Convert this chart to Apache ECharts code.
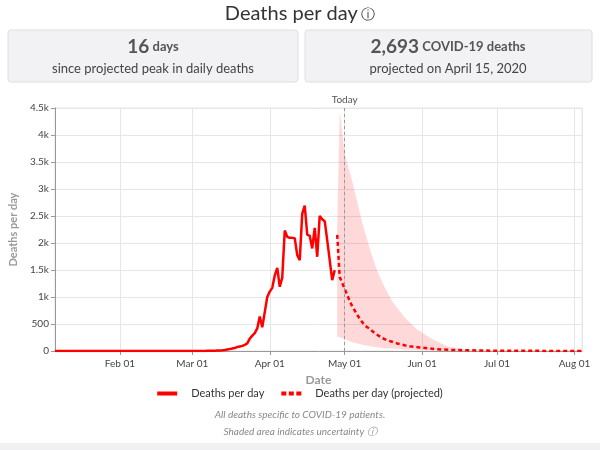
<!DOCTYPE html>
<html>
<head>
<meta charset="utf-8">
<script src="https://cdn.jsdelivr.net/npm/echarts@6/dist/echarts.min.js"></script>
<style>
  html, body { margin: 0; padding: 0; background: #fff; }
  #chart { width: 600px; height: 450px; }
</style>
</head>
<body>
<div id="chart"></div>
<script>
// observed deaths per day
let actualDates = [
  '2020-01-06', '2020-03-01', '2020-03-02', '2020-03-03', '2020-03-04', '2020-03-05',
  '2020-03-06', '2020-03-07', '2020-03-08', '2020-03-09', '2020-03-10', '2020-03-11',
  '2020-03-12', '2020-03-13', '2020-03-14', '2020-03-15', '2020-03-16', '2020-03-17',
  '2020-03-18', '2020-03-19', '2020-03-20', '2020-03-21', '2020-03-22', '2020-03-23',
  '2020-03-24', '2020-03-25', '2020-03-26', '2020-03-27', '2020-03-28', '2020-03-29',
  '2020-03-30', '2020-03-31', '2020-04-01', '2020-04-02', '2020-04-03', '2020-04-04',
  '2020-04-05', '2020-04-06', '2020-04-07', '2020-04-08', '2020-04-09', '2020-04-10',
  '2020-04-11', '2020-04-12', '2020-04-13', '2020-04-14', '2020-04-15', '2020-04-16',
  '2020-04-17', '2020-04-18', '2020-04-19', '2020-04-20', '2020-04-21', '2020-04-22',
  '2020-04-23', '2020-04-24', '2020-04-25', '2020-04-26', '2020-04-27'
];
let actualValues = [
  0, 0, 0, 1, 1, 2,
  2, 3, 4, 5, 6, 8,
  10, 14, 20, 28, 35, 45,
  55, 75, 85, 95, 115, 140,
  230, 285, 330, 420, 640, 440,
  720, 1000, 1100, 1170, 1400, 1540,
  1190, 1360, 2230, 2115, 2095, 2095,
  2090, 1775, 1683, 2545, 2693, 2157,
  2133, 1900, 2280, 1745, 2502, 2440,
  2404, 2053, 1683, 1312, 1497
];

// projection
let projDates = [
  '2020-04-28', '2020-04-29', '2020-04-30', '2020-05-01', '2020-05-02', '2020-05-03',
  '2020-05-04', '2020-05-05', '2020-05-06', '2020-05-07', '2020-05-08', '2020-05-09',
  '2020-05-10', '2020-05-11', '2020-05-12', '2020-05-13', '2020-05-14', '2020-05-15',
  '2020-05-16', '2020-05-17', '2020-05-18', '2020-05-19', '2020-05-20', '2020-05-22',
  '2020-05-25', '2020-05-27', '2020-05-31', '2020-06-07', '2020-06-14', '2020-06-25',
  '2020-07-10', '2020-08-04'
];
let projValues = [
  2150, 1370, 1260, 1150, 1040, 925,
  830, 750, 670, 600, 535, 480,
  440, 415, 370, 330, 300, 270,
  240, 220, 200, 185, 172, 140,
  105, 88, 65, 32, 18, 8,
  3, 1
];

// uncertainty band
let bandDates = ['2020-04-28', '2020-04-29', '2020-05-01', '2020-05-04', '2020-05-08', '2020-05-11',
  '2020-05-14', '2020-05-17', '2020-05-20', '2020-05-25', '2020-05-30', '2020-06-05',
  '2020-06-11', '2020-06-20', '2020-07-01', '2020-08-04'];
let bandLower = [265, 255, 220, 160, 115, 90, 70, 52, 45, 28, 18, 10, 6, 2, 0, 0];
let bandUpper = [2300, 4450, 3650, 3150, 2380, 1900, 1480, 1180, 920, 620, 400, 220, 90, 15, 2, 0];

let yTicks = [0, 500, 1000, 1500, 2000, 2500, 3000, 3500, 4000, 4500];
let monthNames = ['Jan', 'Feb', 'Mar', 'Apr', 'May', 'Jun', 'Jul', 'Aug', 'Sep', 'Oct', 'Nov', 'Dec'];
let todayDate = '2020-05-01';

let font = 'Lato, "Noto Sans", sans-serif';

function pairs(dates, values) {
  return dates.map(function (d, i) { return [d, values[i]]; });
}

let chart = echarts.init(document.getElementById('chart'));

chart.setOption({
  animation: false,
  textStyle: { fontFamily: font },
  graphic: [
    { type: 'text', x: 300, y: 14,
      style: { text: '{t|Deaths per day} {i|\u24D8}', align: 'center', verticalAlign: 'middle',
        rich: {
          t: { fontSize: 20, fill: '#333', fontFamily: font },
          i: { fontSize: 14, fill: '#333', fontFamily: font }
        } } },
    { type: 'rect', shape: { x: 8, y: 30, width: 290, height: 52, r: 3 },
      style: { fill: '#f2f2f4', stroke: '#dedee2', lineWidth: 1 } },
    { type: 'rect', shape: { x: 305, y: 30, width: 287, height: 52, r: 3 },
      style: { fill: '#f2f2f4', stroke: '#dedee2', lineWidth: 1 } },
    { type: 'text', x: 153, y: 47,
      style: { text: '{a|16} {b|days}', align: 'center', verticalAlign: 'middle',
        rich: {
          a: { fontSize: 19, fontWeight: 'bold', fill: '#555', fontFamily: font },
          b: { fontSize: 13, fontWeight: 'bold', fill: '#555', fontFamily: font }
        } } },
    { type: 'text', x: 153, y: 69,
      style: { text: 'since projected peak in daily deaths', align: 'center', verticalAlign: 'middle',
        fontSize: 13, fill: '#444', fontFamily: font } },
    { type: 'text', x: 448, y: 47,
      style: { text: '{a|2,693} {b|COVID-19 deaths}', align: 'center', verticalAlign: 'middle',
        rich: {
          a: { fontSize: 19, fontWeight: 'bold', fill: '#555', fontFamily: font },
          b: { fontSize: 13, fontWeight: 'bold', fill: '#555', fontFamily: font }
        } } },
    { type: 'text', x: 448, y: 69,
      style: { text: 'projected on April 15, 2020', align: 'center', verticalAlign: 'middle',
        fontSize: 13, fill: '#444', fontFamily: font } },
    { type: 'text', x: 300, y: 415,
      style: { text: 'All deaths specific to COVID-19 patients.', align: 'center', verticalAlign: 'middle',
        fontSize: 10, fontStyle: 'italic', fill: '#888', fontFamily: font } },
    { type: 'text', x: 300, y: 432,
      style: { text: 'Shaded area indicates uncertainty \u24D8', align: 'center', verticalAlign: 'middle',
        fontSize: 10, fontStyle: 'italic', fill: '#888', fontFamily: font } },
    { type: 'rect', shape: { x: 0, y: 443, width: 600, height: 7 },
      style: { fill: '#f0f0f2' } }
  ],
  legend: {
    bottom: 46,
    left: 'center',
    itemWidth: 20,
    itemHeight: 4,
    itemGap: 17,
    textStyle: { fontSize: 11, color: '#333', fontFamily: font, padding: [0, 0, 0, 9] },
    data: [
      { name: 'Deaths per day', icon: 'rect' },
      { name: 'Deaths per day (projected)', icon: 'path://M0,0h5v4h-5z M7.5,0h5v4h-5z M15,0h5v4h-5z' }
    ]
  },
  grid: {
    left: 52, right: 18, top: 108, bottom: 99,
    containLabel: false,
    show: true, borderColor: '#e6e6e6', borderWidth: 1
  },
  xAxis: {
    type: 'time',
    min: '2020-01-06',
    max: '2020-08-04',
    name: 'Date',
    nameLocation: 'middle',
    nameGap: 22,
    nameTextStyle: { fontSize: 12, fontWeight: 'bold', color: '#999' },
    axisLine: { lineStyle: { color: '#999' } },
    axisTick: { show: true, length: 4, lineStyle: { color: '#999' } },
    splitLine: { show: true, lineStyle: { color: '#e6e6e6' } },
    axisLabel: {
      fontSize: 10, color: '#444', margin: 8,
      showMinLabel: false, showMaxLabel: false,
      formatter: function (value) {
        let d = new Date(value);
        let day = d.getDate();
        return monthNames[d.getMonth()] + ' ' + (day < 10 ? '0' + day : day);
      }
    }
  },
  yAxis: {
    type: 'value',
    min: yTicks[0],
    max: yTicks[yTicks.length - 1],
    interval: yTicks[1] - yTicks[0],
    name: 'Deaths per day',
    nameLocation: 'middle',
    nameGap: 33,
    nameTextStyle: { fontSize: 11, fontWeight: 'bold', color: '#999' },
    axisLine: { show: true, lineStyle: { color: '#999' } },
    axisTick: { show: true, length: 4, lineStyle: { color: '#999' } },
    splitLine: { lineStyle: { color: '#e6e6e6' } },
    axisLabel: {
      fontSize: 10, color: '#444', margin: 6,
      formatter: function (v) { return v < 1000 ? String(v) : (v / 1000) + 'k'; }
    }
  },
  series: [
    {
      name: 'band-lower',
      type: 'line',
      stack: 'band',
      data: pairs(bandDates, bandLower),
      symbol: 'none',
      lineStyle: { opacity: 0 },
      silent: true,
      z: 1
    },
    {
      name: 'band-upper',
      type: 'line',
      stack: 'band',
      data: bandDates.map(function (d, i) { return [d, bandUpper[i] - bandLower[i]]; }),
      symbol: 'none',
      lineStyle: { opacity: 0 },
      areaStyle: { color: 'rgba(255, 0, 0, 0.15)', opacity: 1 },
      silent: true,
      z: 1
    },
    {
      name: 'Deaths per day',
      type: 'line',
      data: pairs(actualDates, actualValues),
      symbol: 'none',
      color: '#f00',
      lineStyle: { color: '#f00', width: 2.5 },
      z: 3
    },
    {
      name: 'Deaths per day (projected)',
      type: 'line',
      data: pairs(projDates, projValues),
      symbol: 'none',
      color: '#f00',
      lineStyle: { color: '#f00', width: 2.5, type: [4, 3] },
      z: 3,
      markLine: {
        silent: true,
        symbol: 'none',
        lineStyle: { color: '#999', type: [3, 3], width: 1 },
        label: { formatter: 'Today', position: 'end', color: '#555', fontSize: 10, distance: 3 },
        data: [{ xAxis: todayDate }]
      }
    }
  ]
});
</script>
</body>
</html>
